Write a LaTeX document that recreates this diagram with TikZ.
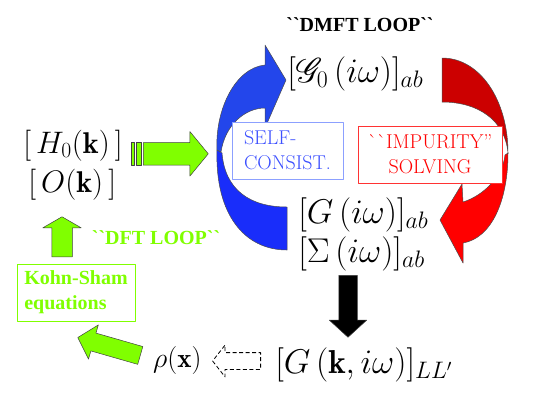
\documentclass[tikz,border=0pt]{standalone}
\usepackage{amsmath,amssymb}
\usepackage{mathrsfs}
\usepackage{fontspec}
\usepackage{xcolor}
\usepackage{tikz}
\usetikzlibrary{shapes,arrows,positioning}
\newfontfamily\timesfont{Liberation Serif}[Ligatures=TeX]
\definecolor{dftgreen}{RGB}{128,255,0}
\definecolor{scblue}{RGB}{60,80,255}
\definecolor{scbluebox}{RGB}{140,160,255}
\definecolor{loopbluefront}{RGB}{35,70,235}
\definecolor{loopblueback}{RGB}{25,45,250}
\definecolor{loopredback}{RGB}{204,0,0}
\definecolor{loopredfront}{RGB}{255,0,0}

\begin{document}
\begin{tikzpicture}[x=1pt, y=-1pt, line join=round]
% Define styles
\tikzstyle{mathlabel} = [inner sep=0pt, anchor=base west, font=\fontsize{24}{26}\selectfont, scale=1.38, transform shape]
\tikzstyle{dftmath} = [inner sep=0pt, anchor=base west, font=\fontsize{24}{26}\selectfont, scale=1.25, transform shape]
\tikzstyle{looptitle} = [inner sep=0pt, anchor=base, font=\timesfont\bfseries\fontsize{20}{22}\selectfont]
\tikzstyle{stepbox} = [rectangle, fill=white, line width=0.6pt, minimum height=57pt, inner sep=0pt, font=\rmfamily\fontsize{20}{25}\selectfont]
\tikzstyle{blockarrow} = [single arrow, draw=black!75, line width=0.5pt, inner xsep=0pt, single arrow head indent=0pt, anchor=tail]
\tikzstyle{greenarrow} = [blockarrow, fill=dftgreen]
\tikzstyle{loopband} = [draw=black!70, line width=0.5pt]

\useasboundingbox (0,0) rectangle (545,408);

% Loop arrows
\draw [loopband, fill=loopblueback] (217,150) .. controls (215,215) and (245,250) .. (287,250) -- (287,207) .. controls (250,207) and (225,190) .. (222,153) -- cycle;
\draw [loopband, fill=loopbluefront] (265,65) -- (265,45) -- (286,80) -- (265,128) -- (265,108) .. controls (245,108) and (225,125) .. (221,152) -- (217,150) .. controls (215,110) and (235,68) .. (265,65) -- cycle;
\draw [loopband, fill=loopredback] (442,58) .. controls (480,58) and (508,100) .. (508,153) .. controls (505,120) and (478,102) .. (442,102) -- cycle;
\draw [loopband, fill=loopredfront] (508,153) .. controls (508,200) and (492,238) .. (463,243) -- (463,263) -- (440,220) -- (462,184) -- (463,202) .. controls (485,195) and (503,175) .. (505,155) -- cycle;

% Define nodes
\node (dmft) [looptitle] at (360,31.5) {\textasciigrave\textasciigrave DMFT LOOP\textasciigrave\textasciigrave};
\node (weiss) [mathlabel] at (287,82) {$[\mathscr{G}_0\,(i\omega)]_{ab}$};
\node (selfc) [stepbox, draw=scbluebox, text=scblue, minimum width=111pt, align=left] at (287.5,150.5) {SELF-\\CONSIST.};
\node (impsolv) [stepbox, draw=red!80, text=red, minimum width=144pt, align=center] at (430,154.5) {\textasciigrave\textasciigrave IMPURITY''\\SOLVING};
\node (gloc) [mathlabel] at (298,223) {$[G\,(i\omega)]_{ab}$};
\node (sigma) [mathlabel] at (298,262) {$[\Sigma\,(i\omega)]_{ab}$};
\node (gk) [mathlabel] at (275,373) {$[G\,(\mathbf{k},i\omega)]_{LL'}$};
\node (rho) [dftmath, scale=0.9] at (153,367) {$\rho(\mathbf{x})$};
\node (ham) [dftmath] at (23,153) {$[\,H_0(\mathbf{k})\,]$};
\node (ovl) [dftmath] at (28,192) {$[\,O(\mathbf{k})\,]$};
\node (dft) [looptitle, text=dftgreen] at (156,244) {\textasciigrave\textasciigrave DFT LOOP\textasciigrave\textasciigrave};
\node (ks) [stepbox, draw=dftgreen, text=dftgreen, font=\timesfont\bfseries\fontsize{20}{25}\selectfont, minimum width=118pt, align=left] at (76,292.5) {Kohn-Sham\\equations};

% Draw arrows
\draw [draw=black!75, line width=0.5pt, fill=dftgreen] (131,142.7) rectangle (134,165);
\draw [draw=black!75, line width=0.5pt, fill=dftgreen] (136,142.7) rectangle (141,165);
\node (hamarrow) [greenarrow, inner ysep=11pt, minimum height=65pt, minimum width=44pt, single arrow head extend=11pt, single arrow tip angle=101] at (143,153.8) {};
\node (ksarrow) [greenarrow, rotate=90, inner ysep=10pt, minimum height=40pt, minimum width=38pt, single arrow head extend=9pt, single arrow tip angle=120] at (62,257) {};
\node (rhoarrow) [greenarrow, rotate=164, inner ysep=9pt, minimum height=65pt, minimum width=35pt, single arrow head extend=8.5pt, single arrow tip angle=95] at (140.5,355.5) {};
\node (dysonarrow) [blockarrow, fill=black, rotate=-90, inner ysep=9pt, minimum height=62pt, minimum width=37pt, single arrow head extend=9.5pt, single arrow tip angle=95] at (348,275) {};
\node (densarrow) [blockarrow, fill=white, draw=black, line width=0.8pt, dash pattern=on 4pt off 2.5pt, rotate=180, inner ysep=8pt, minimum height=48pt, minimum width=31pt, single arrow head extend=7.5pt, single arrow tip angle=104] at (261,361) {};
\end{tikzpicture}
\end{document}
